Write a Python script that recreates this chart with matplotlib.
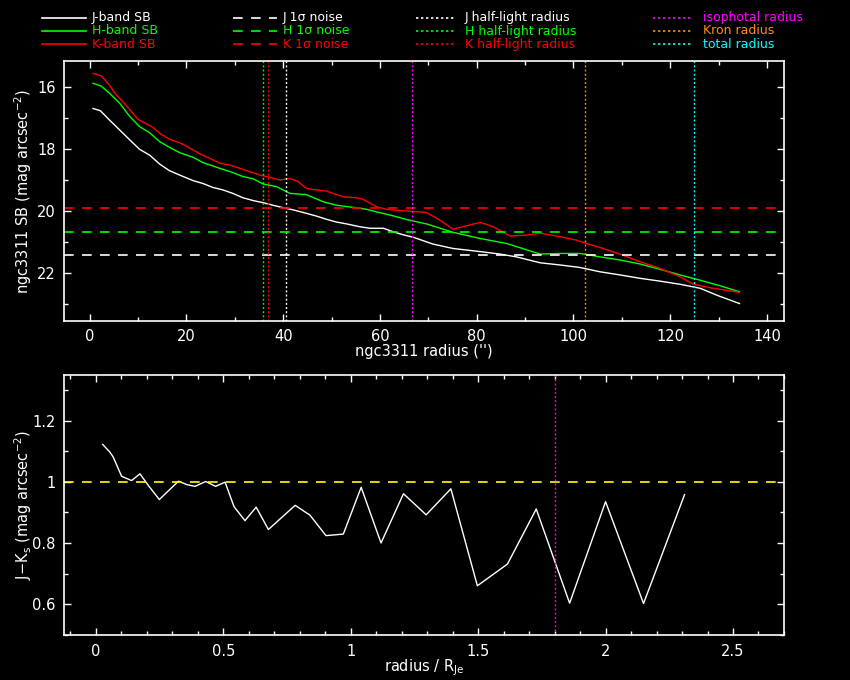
import matplotlib
matplotlib.use('Agg')
import matplotlib.pyplot as plt
from matplotlib.lines import Line2D
from matplotlib.ticker import MultipleLocator, FormatStrFormatter

# surface brightness profiles (radius in arcsec, SB in mag/arcsec^2)
j_r = [0.7, 2.2, 4.1, 6.2, 8.3, 10.3, 12.4, 14.5, 16.5, 18.6, 21.4, 23.4, 25.5, 27.6, 29.6,
       31.7, 33.8, 35.9, 37.9, 40.0, 42.1, 44.8, 46.9, 48.9, 51.0, 53.1, 55.8, 57.9, 60.7,
       62.7, 64.8, 66.9, 71.0, 75.1, 80.7, 84.8, 88.2, 93.1, 97.2, 101.3, 105.5, 109.6,
       113.8, 117.9, 122.0, 126.2, 129.6, 134.3]
j_sb = [16.70, 16.77, 17.07, 17.39, 17.71, 18.01, 18.20, 18.49, 18.70, 18.84, 19.02, 19.11,
        19.24, 19.32, 19.43, 19.57, 19.66, 19.73, 19.81, 19.89, 19.96, 20.07, 20.16, 20.26,
        20.35, 20.41, 20.50, 20.55, 20.55, 20.66, 20.76, 20.84, 21.06, 21.20, 21.30, 21.38,
        21.47, 21.66, 21.73, 21.81, 21.95, 22.05, 22.16, 22.25, 22.35, 22.48, 22.70, 22.97]

h_r = [0.7, 2.4, 4.1, 6.2, 8.3, 10.3, 12.4, 14.5, 16.5, 18.6, 21.4, 23.4, 25.5, 27.6, 29.6,
       31.7, 33.8, 35.9, 38.6, 41.4, 44.8, 48.3, 51.0, 54.5, 57.2, 60.0, 62.7, 65.5, 69.6,
       75.1, 80.7, 86.2, 93.1, 97.2, 101.3, 105.5, 109.6, 113.8, 117.9, 122.0, 126.2, 130.3,
       134.3]
h_sb = [15.89, 15.98, 16.21, 16.53, 16.96, 17.28, 17.48, 17.77, 17.95, 18.12, 18.27, 18.44,
        18.55, 18.66, 18.76, 18.89, 18.96, 19.13, 19.21, 19.43, 19.47, 19.70, 19.81, 19.88,
        19.94, 20.05, 20.15, 20.27, 20.41, 20.68, 20.88, 21.04, 21.38, 21.36, 21.36, 21.47,
        21.57, 21.70, 21.87, 22.05, 22.22, 22.40, 22.59]

k_r = [0.7, 2.4, 4.1, 5.2, 7.2, 10.0, 12.8, 14.5, 16.5, 18.6, 20.0, 22.8, 24.8, 26.9, 29.0,
       31.0, 33.1, 35.2, 37.2, 39.3, 41.4, 43.1, 44.8, 46.9, 48.9, 50.3, 52.4, 55.2, 56.5,
       59.3, 61.4, 64.1, 69.6, 72.4, 75.1, 80.7, 83.4, 86.9, 90.3, 93.1, 97.2, 100.6, 102.7,
       105.5, 109.6, 113.8, 117.9, 122.0, 124.8, 128.9, 134.3]
k_sb = [15.57, 15.65, 15.95, 16.21, 16.54, 17.05, 17.28, 17.50, 17.69, 17.80, 17.91, 18.16,
        18.30, 18.46, 18.52, 18.62, 18.73, 18.84, 18.91, 19.00, 18.95, 19.05, 19.27, 19.32,
        19.35, 19.43, 19.54, 19.57, 19.62, 19.86, 19.94, 19.98, 20.04, 20.29, 20.58, 20.36,
        20.50, 20.80, 20.77, 20.71, 20.82, 20.93, 21.04, 21.17, 21.38, 21.63, 21.84, 22.11,
        22.35, 22.48, 22.61]

# 1 sigma noise levels
noise = {'J': 21.42, 'H': 20.68, 'K': 19.91}
# characteristic radii (arcsec)
half_light = {'J': 40.5, 'H': 35.8, 'K': 36.9}
iso_radius = 66.7
kron_radius = 102.4
total_radius = 125.0

# J-Ks colour profile
col_r = [0.027, 0.055, 0.068, 0.101, 0.140, 0.173, 0.206, 0.249, 0.324, 0.356, 0.389, 0.431,
         0.470, 0.507, 0.542, 0.585, 0.629, 0.677, 0.782, 0.840, 0.903, 0.971, 1.041, 1.119,
         1.207, 1.296, 1.393, 1.497, 1.615, 1.728, 1.859, 2.000, 2.149, 2.310]
col_jk = [1.122, 1.097, 1.081, 1.018, 1.004, 1.026, 0.988, 0.942, 1.002, 0.991, 0.985, 1.001,
          0.985, 0.999, 0.919, 0.873, 0.917, 0.844, 0.923, 0.891, 0.824, 0.829, 0.982, 0.800,
          0.961, 0.892, 0.977, 0.660, 0.731, 0.911, 0.603, 0.935, 0.602, 0.958]
col_ref = 1.0
col_vline = 1.80

colors = {'J': 'white', 'H': '#00ff00', 'K': '#ff0000'}
c_iso = '#ff00ff'
c_kron = '#ff8c1a'
c_total = '#00ffff'

dash = (0, (5.8, 5.0))
dot = (0, (1.4, 1.6))
fs = 10.5
fs_leg = 9

plt.rcParams['font.family'] = 'DejaVu Sans'
fig = plt.figure(figsize=(8.5, 6.8), dpi=100, facecolor='black')
ax1 = fig.add_axes([0.0753, 0.528, 0.847, 0.382], facecolor='black')
ax2 = fig.add_axes([0.0753, 0.0657, 0.847, 0.3823], facecolor='black')

# top panel
ax1.plot(j_r, j_sb, color=colors['J'], lw=1)
ax1.plot(h_r, h_sb, color=colors['H'], lw=1)
ax1.plot(k_r, k_sb, color=colors['K'], lw=1)
for b in ['J', 'H', 'K']:
    ax1.axhline(noise[b], color=colors[b], lw=1.2, linestyle=dash)
    ax1.axvline(half_light[b], color=colors[b], lw=1, linestyle=dot)
ax1.axvline(iso_radius, color=c_iso, lw=1, linestyle=dot)
ax1.axvline(kron_radius, color=c_kron, lw=1, linestyle=dot)
ax1.axvline(total_radius, color=c_total, lw=1, linestyle=dot)
ax1.set_xlim(-5.3, 143.5)
ax1.set_ylim(23.53, 15.18)
ax1.xaxis.set_major_locator(MultipleLocator(20))
ax1.xaxis.set_minor_locator(MultipleLocator(10))
ax1.yaxis.set_major_locator(MultipleLocator(2))
ax1.yaxis.set_minor_locator(MultipleLocator(1))
ax1.set_xlabel("ngc3311 radius ('')", color='white', fontsize=fs, labelpad=0)
ax1.set_ylabel(r'ngc3311 SB (mag arcsec$^{-2}$)', color='white', fontsize=fs)
ax1.yaxis.set_label_coords(-0.041, 0.5)

# bottom panel
ax2.plot(col_r, col_jk, color='white', lw=1)
ax2.axhline(col_ref, color='#ffff00', lw=1.2, linestyle=dash)
ax2.axvline(col_vline, color=c_iso, lw=1, linestyle=dot)
ax2.set_xlim(-0.125, 2.70)
ax2.set_ylim(0.498, 1.348)
ax2.xaxis.set_major_locator(MultipleLocator(0.5))
ax2.xaxis.set_minor_locator(MultipleLocator(0.1))
ax2.yaxis.set_major_locator(MultipleLocator(0.2))
ax2.yaxis.set_minor_locator(MultipleLocator(0.1))
ax2.xaxis.set_major_formatter(FormatStrFormatter('%g'))
ax2.yaxis.set_major_formatter(FormatStrFormatter('%g'))
ax2.set_xlabel(r'radius / R$_{\rm Je}$', color='white', fontsize=fs, labelpad=-1)
ax2.set_ylabel(r'J$-$K$_{\rm s}$ (mag arcsec$^{-2}$)', color='white', fontsize=fs)
ax2.yaxis.set_label_coords(-0.041, 0.5)

for ax in (ax1, ax2):
    for s in ax.spines.values():
        s.set_color('white')
        s.set_linewidth(1.2)
    ax.tick_params(which='both', direction='in', top=True, right=True,
                   colors='white', labelsize=fs, width=1)
    ax.tick_params(which='major', length=5.3, pad=6)
    ax.tick_params(which='minor', length=3)

# legend drawn across the top of the figure
W, H = 850.0, 680.0
rows = [17.7, 31.0, 44.3]
cols = [(41.7, 85.7, 91.7), (233, 277, 283), (416, 455, 465), (653, 693, 703)]
entries = [
    [('J-band SB', 'white', '-'), ('H-band SB', colors['H'], '-'), ('K-band SB', colors['K'], '-')],
    [('J 1σ noise', 'white', dash), ('H 1σ noise', colors['H'], dash), ('K 1σ noise', colors['K'], dash)],
    [('J half-light radius', 'white', dot), ('H half-light radius', colors['H'], dot),
     ('K half-light radius', colors['K'], dot)],
    [('isophotal radius', c_iso, dot), ('Kron radius', c_kron, dot), ('total radius', c_total, dot)],
]
for (x0, x1, xt), col in zip(cols, entries):
    for y, (label, c, ls) in zip(rows, col):
        fig.add_artist(Line2D([x0 / W, x1 / W], [1 - y / H, 1 - y / H], color=c,
                              lw=1.2, linestyle=ls, transform=fig.transFigure))
        fig.text(xt / W, 1 - y / H, label, color=c, fontsize=fs_leg, va='center', ha='left')

plt.savefig('out.png', dpi=100, facecolor='black')
